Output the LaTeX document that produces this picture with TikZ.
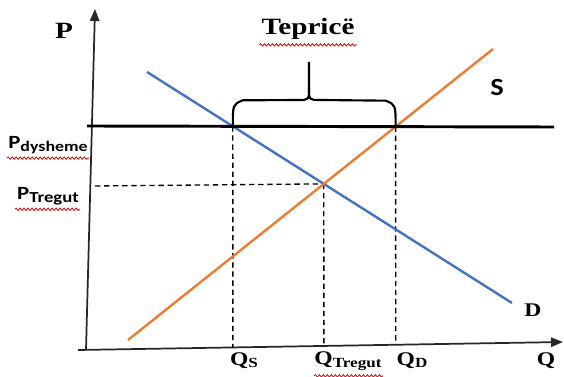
\documentclass[tikz,border=0pt]{standalone}
\usepackage{fontspec}
\setmainfont{Liberation Serif}
\newfontfamily\calibri{Carlito}
\usetikzlibrary{arrows.meta, calc, decorations.pathmorphing}

\definecolor{dblue}{HTML}{4472C4}
\definecolor{sorange}{HTML}{ED7D31}

\begin{document}
\begin{tikzpicture}[x=0.75pt, y=-0.75pt, >={Triangle[length=9pt, width=7pt]}]

    % Define styles
    \tikzset{
        axisline/.style={black!85, line width=1.3pt},
        floorline/.style={black, line width=2.2pt},
        demandline/.style={dblue, line width=1.8pt},
        supplyline/.style={sorange, line width=1.8pt},
        guide/.style={black, line width=1pt, dash pattern=on 4pt off 2.8pt},
        bracepath/.style={black, line width=1.6pt},
        biglabel/.style={font=\fontsize{17.5}{18}\selectfont\bfseries, xscale=1.25, inner sep=0pt},
        smalllabel/.style={font=\fontsize{14.5}{15}\selectfont\bfseries, xscale=1.22, inner sep=0pt},
        sanslabel/.style={font=\calibri\fontsize{14}{15}\selectfont\bfseries, xscale=1.22, inner sep=0pt},
        spellmark/.style={red!90!black, line width=0.6pt, decorate,
            decoration={snake, amplitude=0.9pt, segment length=3pt}}
    }
    \useasboundingbox (0,0) rectangle (564,377);

    % 1. Define Coordinates
    \coordinate (O) at (86,350);
    \coordinate (YTop) at (95,9);
    \coordinate (XLeft) at (78,350);
    \coordinate (XRight) at (563,342);
    \coordinate (FloorL) at (87,126);
    \coordinate (FloorR) at (554,127);
    \coordinate (DTop) at (147,72);
    \coordinate (DBot) at (512,303);
    \coordinate (SBot) at (128,340);
    \coordinate (STop) at (493,49);
    \coordinate (E) at (intersection of DTop--DBot and SBot--STop);
    \coordinate (FloorD) at (intersection of DTop--DBot and FloorL--FloorR);
    \coordinate (FloorS) at (intersection of SBot--STop and FloorL--FloorR);
    \coordinate (QsAxis) at (intersection of FloorD--{$(FloorD)+(0,10)$} and XLeft--XRight);
    \coordinate (QeAxis) at (intersection of E--{$(E)+(0,10)$} and XLeft--XRight);
    \coordinate (QdAxis) at (intersection of FloorS--{$(FloorS)+(0,10)$} and XLeft--XRight);
    \coordinate (PeStart) at (95,186);

    % 2. Axes
    \draw[axisline, ->] (O) -- (YTop);
    \draw[axisline, ->] (XLeft) -- (XRight);

    % 3. Guides (dashed)
    \draw[guide] (PeStart) -- (E);
    \draw[guide] (FloorD) -- (QsAxis);
    \draw[guide] (E) -- (QeAxis);
    \draw[guide] (FloorS) -- (QdAxis);

    % 4. Demand, supply and floor price
    \draw[demandline] (DTop) -- (DBot);
    \draw[supplyline] (SBot) -- (STop);
    \draw[floorline] (FloorL) -- (FloorR);

    % 5. Brace over the surplus
    \coordinate (Tip) at (309,62);
    \draw[bracepath] (FloorD) .. controls ($(FloorD)+(0,-22)$) .. ($(FloorD)+(10,-26)$)
        -- (298,100) .. controls (309,100) .. (309,88) -- (Tip);
    \draw[bracepath] (309,88) .. controls (309,100) .. (320,100)
        -- ($(FloorS)+(-10,-26)$) .. controls ($(FloorS)+(0,-22)$) .. (FloorS);

    % 6. Labels
    \node[biglabel] (PLabel) at (64,31) {P};
    \node[biglabel] (Surplus) at (308,29) {Tepricë};
    \node[font=\calibri\fontsize{18.5}{19}\selectfont\bfseries, xscale=1.15, inner sep=0pt] (SLabel) at (497,88) {S};
    \node[smalllabel] (DLabel) at (533,310) {D};
    \node[smalllabel] (QLabel) at (546,361) {Q};
    \node[smalllabel] (QsLabel) at (244,361) {Q\raisebox{-1.5pt}{\fontsize{10.5}{11}\selectfont S}};
    \node[smalllabel] (QeLabel) at (348,361) {Q\raisebox{-2.5pt}{\fontsize{10.5}{11}\selectfont Tregut}};
    \node[smalllabel] (QdLabel) at (412,361) {Q\raisebox{-1.5pt}{\fontsize{10.5}{11}\selectfont D}};
    \node[sanslabel] (PfLabel) at (48,145) {P\raisebox{-2.5pt}{\fontsize{11}{11}\selectfont dysheme}};
    \node[sanslabel] (PeLabel) at (48,196) {P\raisebox{-2.5pt}{\fontsize{11.5}{12}\selectfont Tregut}};

    % 7. Spelling marks
    \draw[spellmark] ($(Surplus.south west)+(-2,5)$) -- ($(Surplus.south east)+(2,5)$);
    \draw[spellmark] ($(PfLabel.south west)+(-1,4)$) -- ($(PfLabel.south east)+(1,4)$);
    \draw[spellmark] ($(PeLabel.south west)+(-2,4)$) -- ($(PeLabel.south east)+(1,4)$);
    \draw[spellmark] ($(QeLabel.south west)+(0,5)$) -- ($(QeLabel.south east)+(1,5)$);

\end{tikzpicture}
\end{document}
